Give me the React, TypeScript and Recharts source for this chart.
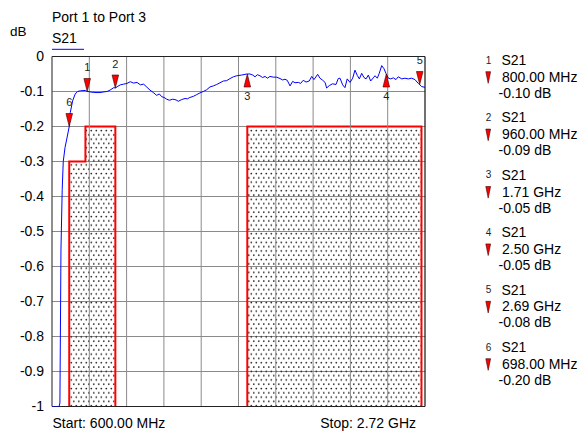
import React from "react";
import {
  ComposedChart,
  Line,
  Area,
  Scatter,
  XAxis,
  YAxis,
  CartesianGrid,
  ReferenceLine,
} from "recharts";

// ---- data ----
const traceFreq = [
  600, 640, 645, 651, 658, 664, 674, 685, 698, 704, 717, 732, 745, 761, 789, 800,
  805, 827, 850, 873, 896, 913, 930, 951, 960, 975, 988, 1007, 1026, 1045, 1064,
  1083, 1102, 1121, 1140, 1157, 1176, 1195, 1210, 1224, 1237, 1252, 1267, 1286,
  1305, 1318, 1337, 1356, 1369, 1384, 1403, 1422, 1441, 1460, 1479, 1498, 1517,
  1536, 1555, 1574, 1593, 1612, 1631, 1650, 1678, 1707, 1725, 1741, 1754, 1767,
  1782, 1797, 1811, 1824, 1839, 1858, 1877, 1896, 1911, 1924, 1937, 1953, 1968,
  1981, 2000, 2013, 2028, 2044, 2062, 2076, 2089, 2110, 2123, 2139, 2152, 2161,
  2176, 2195, 2214, 2227, 2237, 2252, 2265, 2278, 2294, 2309, 2322, 2335, 2347,
  2360, 2373, 2385, 2398, 2411, 2426, 2436, 2449, 2460, 2474, 2487, 2498, 2512,
  2525, 2540, 2555, 2568, 2588, 2606, 2625, 2644, 2663, 2682, 2701, 2720,
];
const traceDb = [
  -1.0, -1.0, -0.99, -0.55, -0.38, -0.3, -0.26, -0.233, -0.2, -0.16, -0.127, -0.107,
  -0.1, -0.098, -0.097, -0.1,
  -0.1, -0.102, -0.103, -0.103, -0.101, -0.1, -0.096, -0.089, -0.09, -0.085, -0.081,
  -0.079, -0.077, -0.072, -0.076, -0.074, -0.081, -0.079, -0.088, -0.096, -0.103,
  -0.111, -0.107, -0.115, -0.117, -0.122, -0.125, -0.122, -0.124, -0.128, -0.123,
  -0.12, -0.121, -0.117, -0.114, -0.109, -0.104, -0.1, -0.095, -0.087, -0.084,
  -0.08, -0.075, -0.07, -0.069, -0.063, -0.058, -0.055, -0.053, -0.05, -0.05,
  -0.053, -0.058, -0.052, -0.055, -0.06, -0.057, -0.062, -0.057, -0.059, -0.059,
  -0.063, -0.067, -0.065, -0.068, -0.084, -0.071, -0.075, -0.074, -0.077, -0.068,
  -0.073, -0.07, -0.057, -0.066, -0.051, -0.062, -0.068, -0.074, -0.09, -0.083,
  -0.078, -0.08, -0.063, -0.062, -0.081, -0.089, -0.064, -0.074, -0.062, -0.039,
  -0.054, -0.064, -0.048, -0.06, -0.064, -0.053, -0.07, -0.061, -0.055, -0.062,
  -0.048, -0.026, -0.035, -0.048, -0.062, -0.064, -0.061, -0.066, -0.058, -0.064,
  -0.062, -0.064, -0.062, -0.066, -0.077, -0.086, -0.088,
];

const mask1Freq = [698, 698, 790, 790, 960, 960];
const mask1Db = [-1, -0.3, -0.3, -0.2, -0.2, -1];
const mask2Freq = [1710, 1710, 2700, 2700];
const mask2Db = [-1, -0.2, -0.2, -1];

const markerNums = ["1", "2", "3", "4", "5", "6"];
const markerFreq = [800, 960, 1710, 2500, 2690, 698];
const markerDb = [-0.1, -0.09, -0.05, -0.05, -0.08, -0.2];
const markerDir = ["down", "down", "up", "up", "down", "down"];
const legendFreqLabels = ["800.00 MHz", "960.00 MHz", "1.71 GHz", "2.50 GHz", "2.69 GHz", "698.00 MHz"];
const legendDbLabels = ["-0.10 dB", "-0.09 dB", "-0.05 dB", "-0.05 dB", "-0.08 dB", "-0.20 dB"];

const yTicks = [0, -0.1, -0.2, -0.3, -0.4, -0.5, -0.6, -0.7, -0.8, -0.9, -1];
const xGrid = [812, 1024, 1236, 1448, 1660, 1872, 2084, 2296, 2508];
const xDomain = [600, 2720];

const titleText = "Port 1 to Port 3";
const unitText = "dB";
const traceName = "S21";
const startText = "Start: 600.00 MHz";
const stopText = "Stop: 2.72 GHz";

// ---- derived ----
const trace = traceFreq.map((f, i) => ({ f, v: traceDb[i] }));
const mask1 = mask1Freq.map((f, i) => ({ f, v: mask1Db[i] }));
const mask2 = mask2Freq.map((f, i) => ({ f, v: mask2Db[i] }));
const markers = markerFreq.map((f, i) => ({ f, v: markerDb[i], n: markerNums[i], dir: markerDir[i] }));

const FONT = "'Liberation Sans', Arial, Helvetica, sans-serif";

const MarkerShape = (props: any) => {
  const { cx, cy, payload } = props;
  if (cx == null || cy == null) return null;
  const up = payload.dir === "up";
  const w = 3.3;
  const h = 13;
  const pts = up
    ? `${cx},${cy} ${cx - w},${cy + h} ${cx + w},${cy + h}`
    : `${cx},${cy} ${cx - w},${cy - h} ${cx + w},${cy - h}`;
  const ty = up ? cy + h + 9.5 : cy - h - 11;
  return (
    <g>
      <polygon points={pts} fill="#ff0000" stroke="#3a0000" strokeWidth={0.6} />
      <text x={cx} y={ty} dy="0.36em" textAnchor="middle" fontSize={11} fontFamily={FONT} fill="#222">
        {payload.n}
      </text>
    </g>
  );
};

const fmtY = (v: number) => (v === 0 ? "0" : v === -1 ? "-1" : v.toFixed(1));

export default function App() {
  const legendTop = 60;
  const legendStep = 57.4;
  return (
    <div style={{ position: "absolute", left: 0, top: 0, width: 582, height: 434, background: "#fff" }}>
      <div style={{ position: "absolute", left: 0, top: 0 }}>
        <ComposedChart
          width={582}
          height={434}
          margin={{ top: 56.5, right: 157, bottom: 27.5, left: 0 }}
        >
          <defs>
            <pattern id="dots" patternUnits="userSpaceOnUse" width={5} height={8.6}>
              <circle cx={1.3} cy={1.5} r={0.9} fill="#222" />
              <circle cx={3.8} cy={5.8} r={0.9} fill="#222" />
            </pattern>
          </defs>
          <CartesianGrid vertical={false} stroke="#8a8a8a" strokeWidth={1} />
          <XAxis dataKey="f" type="number" domain={xDomain} hide allowDataOverflow />
          <YAxis
            type="number"
            domain={[-1, 0]}
            ticks={yTicks}
            interval={0}
            width={52}
            axisLine={false}
            tickLine={false}
            tickSize={6}
            tickMargin={2}
            tickFormatter={fmtY}
            tick={{ fontSize: 14, fill: "#000", fontFamily: FONT }}
            allowDataOverflow
          />
          {xGrid.map((x) => (
            <ReferenceLine key={x} x={x} stroke="#8a8a8a" strokeWidth={1} />
          ))}
          <Area
            data={mask1}
            dataKey="v"
            type="linear"
            baseValue={-1}
            fill="url(#dots)"
            fillOpacity={1}
            stroke="#ff0000"
            strokeWidth={2}
            isAnimationActive={false}
            dot={false}
            activeDot={false}
          />
          <Area
            data={mask2}
            dataKey="v"
            type="linear"
            baseValue={-1}
            fill="url(#dots)"
            fillOpacity={1}
            stroke="#ff0000"
            strokeWidth={2}
            isAnimationActive={false}
            dot={false}
            activeDot={false}
          />
          <ReferenceLine y={0} stroke="#222" strokeWidth={1.2} />
          <ReferenceLine y={-1} stroke="#222" strokeWidth={1.2} />
          <ReferenceLine x={600} stroke="#444" strokeWidth={1.2} />
          <ReferenceLine x={2720} stroke="#111" strokeWidth={1.2} />
          <Line
            data={trace}
            dataKey="v"
            type="linear"
            stroke="#0000ff"
            strokeWidth={1}
            dot={false}
            activeDot={false}
            isAnimationActive={false}
          />
          <Scatter data={markers} dataKey="v" shape={MarkerShape} isAnimationActive={false} />
        </ComposedChart>
      </div>
      <svg
        width={582}
        height={434}
        style={{ position: "absolute", left: 0, top: 0, pointerEvents: "none" }}
        fontFamily={FONT}
      >
        <text x={52} y={21.5} fontSize={14} fill="#000">{titleText}</text>
        <text x={10} y={36} fontSize={13.5} fill="#000">{unitText}</text>
        <text x={52} y={42.7} fontSize={14} fill="#000">{traceName}</text>
        <line x1={52} x2={84} y1={49.3} y2={49.3} stroke="#0000ff" strokeWidth={1} />
        <text x={52.5} y={428.3} fontSize={14} fill="#000">{startText}</text>
        <text x={416} y={428.3} fontSize={14} fill="#000" textAnchor="end">{stopText}</text>
        {markerNums.map((n, i) => {
          const y0 = legendTop + i * legendStep;
          return (
            <g key={n}>
              <text x={488.5} y={y0} dy="0.36em" fontSize={10} textAnchor="middle" fill="#222">{n}</text>
              <text x={501.5} y={y0} dy="0.36em" fontSize={14} fill="#000">{traceName}</text>
              <polygon
                points={`${485.8},${y0 + 11.7} ${490.6},${y0 + 11.7} ${488.2},${y0 + 23.3}`}
                fill="#ff0000"
                stroke="#3a0000"
                strokeWidth={0.6}
              />
              <text x={502} y={y0 + 16.7} dy="0.36em" fontSize={14} fill="#000">{legendFreqLabels[i]}</text>
              <text x={498.5} y={y0 + 32.7} dy="0.36em" fontSize={14} fill="#000">{legendDbLabels[i]}</text>
            </g>
          );
        })}
      </svg>
    </div>
  );
}
